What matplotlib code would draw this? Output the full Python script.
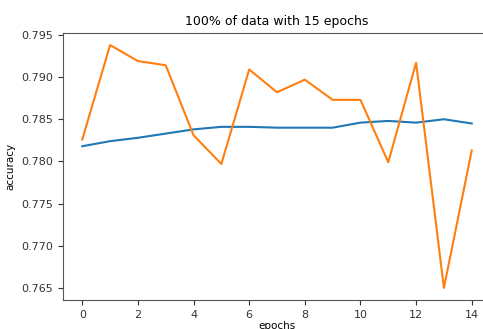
import numpy as np
import matplotlib.pyplot as plt

# values
epochs = list(range(15))
train_acc = [0.7818, 0.7824, 0.7828, 0.7833, 0.7838, 0.7841, 0.7841, 0.7840,
             0.7840, 0.7840, 0.7846, 0.7848, 0.7846, 0.7850, 0.7845]
val_acc = [0.7826, 0.7938, 0.7919, 0.7914, 0.7831, 0.7797, 0.7909, 0.7882,
           0.7897, 0.7873, 0.7873, 0.7799, 0.7917, 0.7650, 0.7813]

fig = plt.figure(figsize=(4.83, 3.29), dpi=100)
# the original screenshot cuts off the right side of the axes
ax = fig.add_axes([0.130, 0.088, 0.887, 0.812])

ax.plot(epochs, train_acc, color='#1f77b4', linewidth=1.5)
ax.plot(epochs, val_acc, color='#ff7f0e', linewidth=1.5)

ax.set_title('100% of data with 15 epochs', fontsize=9)
ax.set_xlabel('epochs', fontsize=7.5, labelpad=1)
ax.set_ylabel('accuracy', fontsize=7.5)
ax.set_xticks(range(0, 15, 2))
ax.set_yticks([0.765, 0.770, 0.775, 0.780, 0.785, 0.790, 0.795])
ax.tick_params(labelsize=8, colors='#333333')
for s in ax.spines.values():
    s.set_color('#555555')

fig.savefig('out.png', dpi=100)
